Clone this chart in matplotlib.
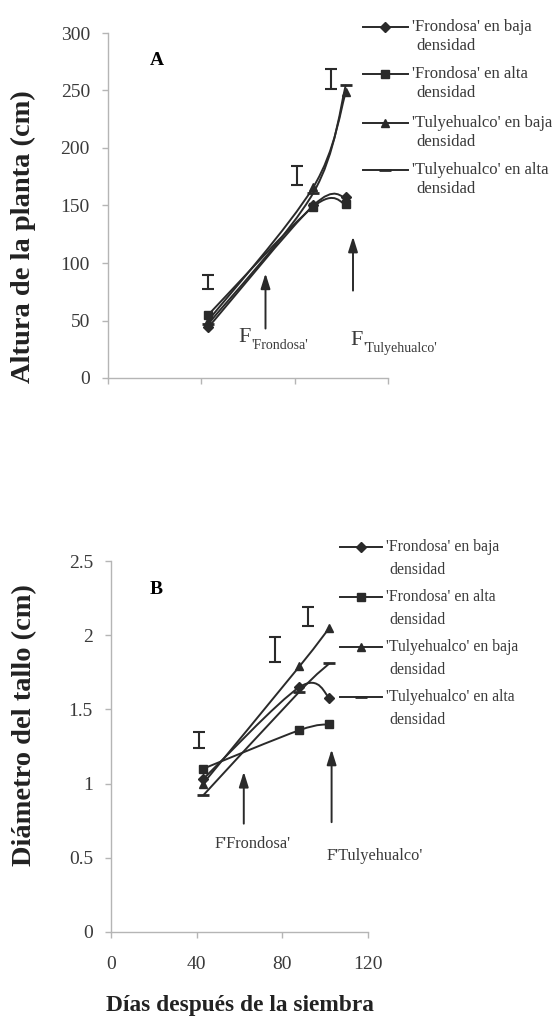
import numpy as np, matplotlib
matplotlib.use('Agg')
import matplotlib.pyplot as plt
from matplotlib.path import Path
from matplotlib.patches import PathPatch

plt.rcParams.update({'font.family': 'Liberation Serif', 'figure.facecolor': 'white'})

LINE = '#2a2a2a'
GREY = '#b5b5b5'
TXT = '#3a3a3a'

# ---------- data ----------
days = [43, 88, 102]
series = ["'Frondosa' en baja\ndensidad", "'Frondosa' en alta\ndensidad",
          "'Tulyehualco' en baja\ndensidad", "'Tulyehualco' en alta\ndensidad"]
markers = ['D', 's', '^', '_']

alt_fb = [44, 150, 157]
alt_fa = [55, 149, 151]
alt_tb = [50, 166, 249]
alt_ta = [47, 161, 255]

diam_fb = [1.03, 1.65, 1.58]
diam_fa = [1.10, 1.36, 1.40]
diam_tb = [1.00, 1.79, 2.05]
diam_ta = [0.92, 1.62, 1.81]

# LSD bars
lsd_a_x = [43, 81, 95.5]
lsd_a_y = [83.5, 176, 260]
lsd_a_h = [6.5, 8, 8.5]
lsd_b_x = [41, 76.5, 92]
lsd_b_y = [1.295, 1.905, 2.125]
lsd_b_h = [0.055, 0.085, 0.065]

# flowering arrows (x, y_from, y_to)
arr_a = [(67.5, 43, 91), (105, 76, 123)]
arr_b = [(62, 0.73, 1.08), (103, 0.74, 1.23)]

ARROW = '-|>,head_length=0.7,head_width=0.22'


def smooth(ax, x, y, **kw):
    # Excel-style smoothed line (Catmull-Rom as cubic Bezier)
    x = np.asarray(x, float); y = np.asarray(y, float)
    P = np.column_stack([x, y])
    verts = [P[0]]; codes = [Path.MOVETO]
    n = len(P)
    for i in range(n - 1):
        p0 = P[i - 1] if i > 0 else P[i]
        p3 = P[i + 2] if i + 2 < n else P[i + 1]
        c1 = P[i] + (P[i + 1] - p0) / 6
        c2 = P[i + 1] - (p3 - P[i]) / 6
        verts += [c1, c2, P[i + 1]]; codes += [Path.CURVE4] * 3
    ax.add_patch(PathPatch(Path(verts, codes), fill=False, **kw))


def style(ax):
    for s in ['top', 'right']:
        ax.spines[s].set_visible(False)
    for s in ['left', 'bottom']:
        ax.spines[s].set_color(GREY); ax.spines[s].set_linewidth(1.0)
    ax.tick_params(colors=GREY, labelcolor=TXT, labelsize=14, length=4, width=1.0)
    ax.tick_params(axis='y', pad=9)
    ax.tick_params(axis='x', pad=13)


def mk(m):
    return dict(marker=m, ms=9 if m == '_' else (5 if m == 'D' else 5.5),
                mew=2 if m == '_' else 1, color=LINE)


def panel(ax, ys, lsd_x, lsd_y, lsd_h):
    for y, m in zip(ys, markers):
        smooth(ax, days, y, color=LINE, lw=1.4)
        ax.plot(days, y, ls='none', **mk(m))
    ax.errorbar(lsd_x, lsd_y, yerr=lsd_h, fmt='none', ecolor=LINE, elinewidth=1.5,
                capsize=4.5, capthick=1.5)


def legend(ax, x0, x1, xt, ys, dy, fs):
    for lab, m, y in zip(series, markers, ys):
        ax.plot([x0, x1], [y, y], color=LINE, lw=1.4, transform=ax.transAxes, clip_on=False)
        ax.plot([(x0 + x1) / 2], [y], transform=ax.transAxes, clip_on=False, **mk(m))
        first, second = lab.split('\n')
        ax.text(xt, y, first, transform=ax.transAxes, fontsize=fs, color=TXT, va='center')
        ax.text(xt + 0.015, y - dy, second, transform=ax.transAxes, fontsize=fs, color=TXT, va='center')


fig = plt.figure(figsize=(5.52, 10.24), dpi=100)

# ---------- A ----------
axA = fig.add_axes([108 / 552, 1 - 378 / 1024, 280 / 552, 345 / 1024])
panel(axA, [alt_fb, alt_fa, alt_tb, alt_ta], lsd_a_x, lsd_a_y, lsd_a_h)
axA.set_xlim(0, 120); axA.set_ylim(0, 300)
axA.set_xticks([0, 40, 80, 120]); axA.set_xticklabels([])
axA.set_yticks(range(0, 301, 50))
style(axA)
axA.text(21, 276, 'A', fontsize=14, fontweight='bold', ha='center', va='center')
for x, y0, y1 in arr_a:
    axA.annotate('', xy=(x, y1), xytext=(x, y0),
                 arrowprops=dict(arrowstyle=ARROW, color=LINE, lw=1.4, mutation_scale=13, shrinkA=0, shrinkB=0))
axA.text(56, 31, 'F', fontsize=16, color=TXT, ha='left', va='baseline')
axA.text(61.3, 25.5, "'Frondosa'", fontsize=10, color=TXT, ha='left', va='baseline')
axA.text(103.7, 29, 'F', fontsize=16, color=TXT, ha='left', va='baseline')
axA.text(109.5, 22.5, "'Tulyehualco'", fontsize=10, color=TXT, ha='left', va='baseline')
legend(axA, 0.91, 1.07, 1.085, [1.017, 0.881, 0.739, 0.603], 0.056, 12)
fig.text(23 / 552, 1 - 237 / 1024, 'Altura de la planta (cm)', rotation=90, fontsize=20.5,
         fontweight='bold', ha='center', va='center', color='#222')

# ---------- B ----------
axB = fig.add_axes([111 / 552, 1 - 932 / 1024, 257 / 552, 371 / 1024])
panel(axB, [diam_fb, diam_fa, diam_tb, diam_ta], lsd_b_x, lsd_b_y, lsd_b_h)
axB.set_xlim(0, 120); axB.set_ylim(0, 2.5)
axB.set_xticks([0, 40, 80, 120])
axB.set_yticks([0, 0.5, 1, 1.5, 2, 2.5])
axB.set_yticklabels(['0', '0.5', '1', '1.5', '2', '2.5'])
style(axB)
axB.text(21, 2.31, 'B', fontsize=14, fontweight='bold', ha='center', va='center')
for x, y0, y1 in arr_b:
    axB.annotate('', xy=(x, y1), xytext=(x, y0),
                 arrowprops=dict(arrowstyle=ARROW, color=LINE, lw=1.4, mutation_scale=13, shrinkA=0, shrinkB=0))
axB.text(66, 0.59, "F'Frondosa'", fontsize=11.8, color=TXT, ha='center', va='center')
axB.text(123, 0.51, "F'Tulyehualco'", fontsize=11.8, color=TXT, ha='center', va='center')
legend(axB, 0.89, 1.055, 1.07, [1.038, 0.903, 0.768, 0.633], 0.062, 11.3)
fig.text(25 / 552, 1 - 725 / 1024, 'Diámetro del tallo (cm)', rotation=90, fontsize=20.5,
         fontweight='bold', ha='center', va='center', color='#222')
fig.text(240 / 552, 1 - 1005 / 1024, 'Días después de la siembra', fontsize=16.8,
         fontweight='bold', ha='center', va='center', color='#222')

fig.savefig('out.png', dpi=100)
